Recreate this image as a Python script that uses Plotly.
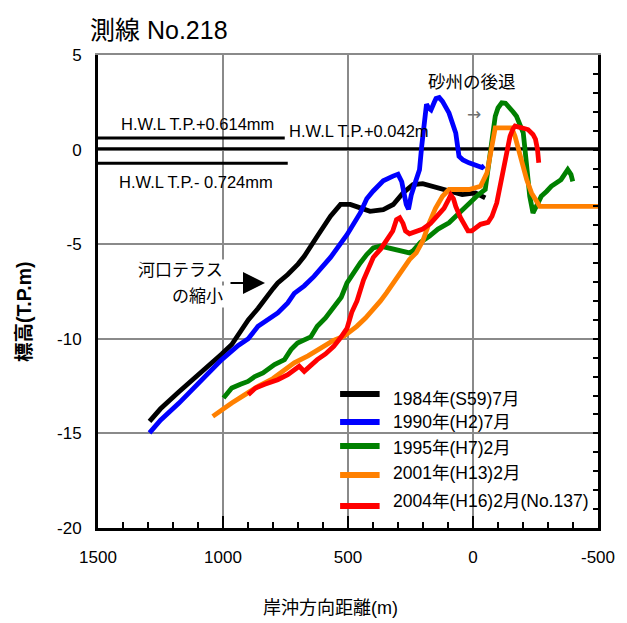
import plotly.graph_objects as go

# ---- survey profiles: offshore distance (m) and elevation (T.P. m) ----
series_names = ["1984年(S59)7月", "1990年(H2)7月", "1995年(H7)2月",
                "2001年(H13)2月", "2004年(H16)2月(No.137)"]
series_colors = ["#000000", "#0000ff", "#008000", "#ff8000", "#ff0000"]

x_1984 = [1294, 1250, 1176, 1097, 1033, 1005, 965, 938, 899, 860, 833, 800, 781,
          741, 700, 675, 623, 570, 530, 491, 451, 412, 359, 319, 280, 240, 201,
          150, 109, 43, -10, -49]
y_1984 = [-14.36, -13.7, -12.8, -11.9, -11.1, -10.8, -10.3, -9.75, -9.0, -8.4, -7.9,
          -7.35, -7.05, -6.6, -6.05, -5.64, -4.58, -3.52, -2.9, -2.9, -3.08, -3.26,
          -3.17, -2.9, -2.29, -1.85, -1.8, -2.0, -2.1, -2.38, -2.29, -2.55]

x_1990 = [1294, 1250, 1176, 1100, 1005, 939, 899, 860, 820, 781, 741, 715, 675, 636,
          570, 504, 451, 425, 400, 359, 320, 300, 285, 275, 267, 258, 247, 230, 214,
          205, 194, 186, 178, 168, 155, 148, 135, 122, 96, 80, 69, 56, 40, 16, -10,
          -36, -45]
y_1990 = [-14.97, -14.3, -13.4, -12.4, -11.1, -10.35, -10.0, -9.34, -9.0, -8.63, -8.1,
          -7.6, -7.2, -6.7, -5.7, -4.5, -3.35, -2.6, -2.2, -1.65, -1.4, -1.3, -1.7,
          -2.4, -2.9, -3.15, -2.4, -1.7, -1.06, 0.2, 1.59, 2.4, 2.2, 2.1, 2.5, 2.7,
          2.75, 2.55, 1.94, 1.3, 0.88, -0.35, -0.55, -0.7, -0.85, -0.95, -0.85]

x_1995 = [998, 965, 930, 900, 873, 840, 794, 754, 728, 702, 649, 623, 590, 557, 527,
          504, 478, 451, 425, 399, 370, 333, 300, 280, 254, 240, 210, 175, 140, 96,
          60, 16, -20, -49, -60, -69, -80, -89, -100, -115, -130, -142, -160, -174,
          -190, -201, -208, -214, -220, -227, -240, -255, -273, -295, -313, -352,
          -379, -392, -399]
y_1995 = [-13.13, -12.6, -12.4, -12.25, -12.0, -11.8, -11.36, -11.1, -10.57, -10.22,
          -9.9, -9.34, -8.9, -8.28, -7.8, -7.05, -6.5, -5.99, -5.55, -5.2, -5.1, -5.2,
          -5.3, -5.37, -5.46, -5.35, -4.9, -4.58, -4.2, -3.87, -3.4, -2.82, -2.4,
          -2.11, -1.0, 0.17, 1.2, 1.76, 2.2, 2.47, 2.45, 2.29, 2.0, 1.76, 1.3, 0.88,
          0.0, -0.7, -1.6, -2.47, -3.35, -2.9, -2.47, -2.2, -1.94, -1.59, -1.06,
          -1.32, -1.68]

x_2001 = [1041, 1000, 965, 912, 860, 800, 767, 715, 660, 610, 560, 517, 465, 430, 399,
          370, 346, 320, 293, 270, 254, 227, 200, 175, 150, 122, 96, 50, 16, -30, -56,
          -66, -76, -82, -89, -120, -155, -168, -194, -215, -234, -250, -267, -350,
          -420, -500]
y_2001 = [-14.1, -13.7, -13.39, -12.95, -12.51, -12.1, -11.8, -11.27, -10.9, -10.48,
          -10.1, -9.87, -9.34, -8.9, -8.46, -8.0, -7.57, -7.05, -6.52, -6.1, -5.81,
          -5.46, -4.8, -3.87, -3.1, -2.47, -2.11, -2.11, -2.11, -1.94, -1.23, -0.5,
          0.17, 0.8, 1.15, 1.15, 1.15, 0.7, -0.7, -1.6, -2.29, -2.7, -3.0, -3.0,
          -3.0, -3.0]

x_2004 = [899, 870, 833, 800, 781, 741, 715, 695, 675, 650, 623, 590, 557, 530, 504,
          485, 464, 438, 416, 399, 369, 346, 321, 306, 293, 280, 270, 254, 230, 201,
          170, 148, 116, 100, 89, 78, 69, 50, 37, 20, 5, -10, -30, -60, -76, -95,
          -105, -115, -125, -135, -148, -160, -168, -180, -194, -220, -240, -250,
          -258, -263]
y_2004 = [-12.95, -12.6, -12.4, -12.25, -12.16, -11.9, -11.63, -11.45, -11.72, -11.4,
          -11.1, -10.8, -10.4, -9.95, -9.45, -8.6, -8.0, -6.9, -6.3, -5.7, -5.25,
          -4.8, -4.3, -3.7, -3.6, -3.9, -4.3, -4.45, -4.35, -4.2, -3.9, -3.55, -3.1,
          -2.7, -2.4, -2.6, -3.0, -3.6, -3.9, -4.3, -4.3, -4.15, -3.95, -3.85, -3.52,
          -2.82, -2.2, -1.59, -0.84, -0.17, 0.7, 1.1, 1.25, 1.2, 1.15, 1.06, 0.8,
          0.55, 0.0, -0.7]

series_x = [x_1984, x_1990, x_1995, x_2001, x_2004]
series_y = [y_1984, y_1990, y_1995, y_2001, y_2004]

# ---- high water levels ----
hwl_levels = [0.614, 0.042, -0.724]
hwl_x_start = [1500, 1500, 1500]
hwl_x_end = [753, -500, 741]
hwl_labels = ["H.W.L T.P.+0.614mm", "H.W.L T.P.+0.042m", "H.W.L T.P.- 0.724mm"]

# ---- axes ----
x_ticks = [1500, 1000, 500, 0, -500]
x_tick_labels = ["1500", "1000", "500", "0", "-500"]
y_ticks = [5, 0, -5, -10, -15, -20]
y_tick_labels = ["5", "0", "-5", "-10", "-15", "-20"]

# plot-area frame in pixels (used to place free text in paper coords)
L, R, T, B = 98, 604, 55, 528
W, H = R - L, B - T


def fx(p):
    return (p - L) / W


def fy(p):
    return (B - p) / H


FONT = "Liberation Sans, Noto Sans CJK JP, sans-serif"
GRID = "#8a8a8a"

fig = go.Figure()

for yv, xs, xe in zip(hwl_levels, hwl_x_start, hwl_x_end):
    fig.add_trace(go.Scatter(x=[xs, xe], y=[yv, yv], mode="lines",
                             line=dict(color="black", width=3),
                             showlegend=False, hoverinfo="skip"))

for name, color, xs, ys in zip(series_names, series_colors, series_x, series_y):
    fig.add_trace(go.Scatter(x=xs, y=ys, mode="lines", name=name,
                             line=dict(color=color, width=4.8),
                             showlegend=False))

# empty trace to carry the right/top frame axes
fig.add_trace(go.Scatter(x=[None], y=[None], xaxis="x2", yaxis="y2",
                         showlegend=False, hoverinfo="skip"))

annotations = []

# title
annotations.append(dict(text="測線 No.218", x=fx(88), y=fy(30), xref="paper",
                        yref="paper", xanchor="left", yanchor="middle",
                        showarrow=False, font=dict(family=FONT, size=25, color="black")))

# high-water-level labels
hwl_pos = [(119, 124), (289, 131), (117, 182)]
for txt, (px_, py_) in zip(hwl_labels, hwl_pos):
    annotations.append(dict(text=txt, x=fx(px_), y=fy(py_), xref="paper",
                            yref="paper", xanchor="left", yanchor="middle",
                            showarrow=False,
                            font=dict(family=FONT, size=16.5, color="black")))

# sand-bar note
annotations.append(dict(text="砂州の後退", x=fx(476), y=fy(82), xref="paper",
                        yref="paper", xanchor="center", yanchor="middle",
                        showarrow=False, font=dict(family=FONT, size=17.5, color="black")))
annotations.append(dict(text="→", x=fx(479), y=fy(114), xref="paper", yref="paper",
                        xanchor="center", yanchor="middle", showarrow=False,
                        font=dict(family="DejaVu Sans", size=17, color="#707070")))

# river-mouth terrace note
annotations.append(dict(text="河口テラス", x=fx(227), y=fy(270), xref="paper",
                        yref="paper", xanchor="right", yanchor="middle",
                        showarrow=False, bgcolor="white",
                        font=dict(family=FONT, size=17, color="black")))
annotations.append(dict(text="の縮小", x=fx(227), y=fy(296), xref="paper",
                        yref="paper", xanchor="right", yanchor="middle",
                        showarrow=False, bgcolor="white",
                        font=dict(family=FONT, size=17, color="black")))
annotations.append(dict(text="", x=fx(267), y=fy(283), xref="paper", yref="paper",
                        ax=-36, ay=0, showarrow=True, arrowhead=2, arrowsize=2.2,
                        arrowwidth=2, arrowcolor="black"))

# axis titles
annotations.append(dict(text="<b>標高(T.P.m)</b>", x=fx(23), y=fy(312), xref="paper",
                        yref="paper", xanchor="center", yanchor="middle",
                        textangle=-90, showarrow=False,
                        font=dict(family=FONT, size=19.5, color="black")))
annotations.append(dict(text="岸沖方向距離(m)", x=fx(333), y=fy(608), xref="paper",
                        yref="paper", xanchor="center", yanchor="middle",
                        showarrow=False, font=dict(family=FONT, size=18, color="black")))

# legend
shapes = []
swatch_rows = [394, 422, 446, 475, 506]
text_rows = [399, 422, 448, 473, 501]
for name, color, sy, ty in zip(series_names, series_colors, swatch_rows, text_rows):
    shapes.append(dict(type="line", xref="paper", yref="paper",
                       x0=fx(343), x1=fx(383), y0=fy(sy), y1=fy(sy),
                       line=dict(color=color, width=6)))
    annotations.append(dict(text=name, x=fx(395), y=fy(ty), xref="paper",
                            yref="paper", xanchor="left", yanchor="middle",
                            showarrow=False,
                            font=dict(family=FONT, size=17.5, color="black")))

fig.update_layout(
    width=627, height=623, autosize=False,
    margin=dict(l=L, r=627 - R, t=T, b=623 - B),
    paper_bgcolor="white", plot_bgcolor="white",
    showlegend=False,
    xaxis=dict(range=[1500, -500], tickvals=x_ticks,
               ticktext=x_tick_labels, showgrid=True, gridcolor=GRID, gridwidth=2,
               zeroline=False, showline=True, linecolor="black", linewidth=3,
               ticks="inside", ticklen=12, tickwidth=2, tickcolor="black",
               minor=dict(ticks="inside", dtick=100, ticklen=6, tickwidth=2,
                          tickcolor="black", showgrid=False),
               ticklabelstandoff=12,
               tickfont=dict(family=FONT, size=17, color="black")),
    yaxis=dict(range=[-20, 5], tickvals=y_ticks, ticktext=y_tick_labels,
               showgrid=True, gridcolor=GRID, gridwidth=2, zeroline=False,
               showline=True, linecolor="black", linewidth=3, ticks="",
               ticklabelstandoff=10,
               tickfont=dict(family=FONT, size=17, color="black")),
    xaxis2=dict(range=[1500, -500], overlaying="x", side="top", showline=True,
                linecolor=GRID, linewidth=2, showgrid=False, zeroline=False,
                showticklabels=False, ticks=""),
    yaxis2=dict(range=[-20, 5], overlaying="y", side="right", showline=True,
                linecolor="black", linewidth=3, showgrid=False, zeroline=False,
                showticklabels=False, ticks="inside", dtick=1, ticklen=5,
                tickwidth=2, tickcolor="black"),
    annotations=annotations,
    shapes=shapes,
)

fig.write_html("out.html")
